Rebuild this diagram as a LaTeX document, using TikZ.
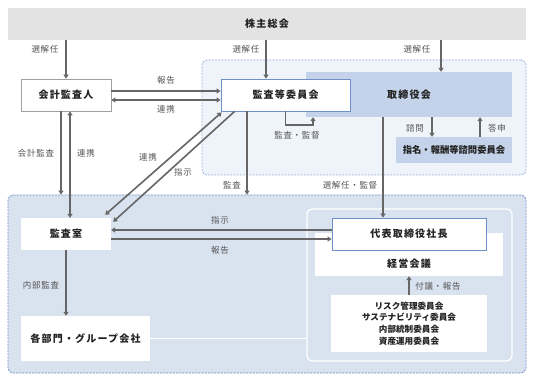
\documentclass[tikz,border=0pt]{standalone}
\usepackage{fontspec}
\setmainfont{Noto Sans CJK JP}
\usetikzlibrary{arrows.meta,calc}
\definecolor{bandgray}{HTML}{E3E3E3}
\definecolor{upfill}{HTML}{EFF3FA}
\definecolor{updash}{HTML}{9DB4DA}
\definecolor{lowfill}{HTML}{D9E2EF}
\definecolor{lowdash}{HTML}{6E8FC8}
\definecolor{torifill}{HTML}{C4D3E9}
\definecolor{boxblue}{HTML}{6F90C8}
\definecolor{boxgray}{HTML}{A0A0A0}
\definecolor{arrgray}{HTML}{666666}
\definecolor{labtext}{HTML}{555555}
\definecolor{boxtext}{HTML}{222222}
\tikzset{
  boxfont/.style={font=\fontsize{10}{12}\selectfont\bfseries\addfontfeature{LetterSpace=12}},
  plainbox/.style={fill=white, inner sep=0pt, text=boxtext, boxfont},
  bluebox/.style={plainbox, draw=boxblue, line width=0.8pt},
  graybox/.style={plainbox, draw=boxgray, line width=0.8pt},
  lab/.style={font=\fontsize{8.5}{10}\selectfont\addfontfeature{LetterSpace=8}, text=labtext, inner sep=0pt},
  arr/.style={draw=arrgray, line width=1.6pt, -{Triangle[width=5pt,length=4pt]}},
  darr/.style={draw=arrgray, line width=1.6pt, {Triangle[width=5pt,length=4pt]}-{Triangle[width=5pt,length=4pt]}},
  region/.style={inner sep=0pt, rounded corners=5pt, line width=0.8pt, dash pattern=on 2pt off 1.2pt},
}
\begin{document}
\begin{tikzpicture}[x=1pt,y=-1pt]
\useasboundingbox (0,0) rectangle (533,382);
\fill[white] (0,0) rectangle (533,382);

% band
\node[fill=bandgray, minimum width=518pt, minimum height=32pt, inner sep=0pt, text=boxtext, boxfont] (band) at (267,24) {株主総会};

% regions
\node[region, draw=updash, fill=upfill, minimum width=324pt, minimum height=115pt] (upper) at (364,117.5) {};
\node[region, draw=lowdash, fill=lowfill, minimum width=518pt, minimum height=178pt] (lower) at (267,284) {};
\node[inner sep=0pt, rounded corners=5pt, draw=white, line width=1.3pt, minimum width=205pt, minimum height=152pt] (inner) at (409.5,285) {};

% boxes
\node[graybox, minimum width=90pt, minimum height=32pt] (kaikei) at (66,95) {会計監査人};
\node[plainbox, fill=torifill, minimum width=206pt, minimum height=45pt] (tori) at (409,94.5) {取締役会};
\node[bluebox, minimum width=129pt, minimum height=32pt] (kansa) at (285.5,95) {監査等委員会};
\node[plainbox, fill=torifill, minimum width=116pt, minimum height=26pt, font=\fontsize{9.3}{11}\selectfont\bfseries] (shimei) at (454,150) {指名・報酬等諮問委員会};
\node[plainbox, minimum width=90pt, minimum height=32pt] (shitsu) at (66,234) {監査室};
\node[plainbox, minimum width=188pt, minimum height=43pt] (keiei) at (409,254.5) {};
\node[text=boxtext, boxfont, inner sep=0pt] (keieitext) at (409,263.5) {経営会議};
\node[bluebox, minimum width=154pt, minimum height=32pt] (daihyo) at (409,234) {代表取締役社長};
\node[plainbox, minimum width=156pt, minimum height=57pt, align=center, font=\fontsize{8.6}{11.6}\selectfont\bfseries] (iinkai) at (409,323.5) {リスク管理委員会\\サステナビリティ委員会\\内部統制委員会\\資産運用委員会};
\node[plainbox, minimum width=129pt, minimum height=45pt] (kakubu) at (85.5,338.5) {各部門・グループ会社};

% coordinates
\coordinate (xk) at (266,0);
\coordinate (xt) at (441,0);
\coordinate (xa) at (247,0);
\coordinate (xs) at (383,0);
\coordinate (xq) at (432,0);
\coordinate (xr) at (480,0);
\coordinate (loopc) at (313,125);

% arrows
\draw[arr] (band.south -| kaikei) -- (kaikei.north);
\draw[arr] (band.south -| xk) -- (xk |- kansa.north);
\draw[arr] (band.south -| xt) -- (xt |- tori.north);
\draw[arr] ([yshift=4pt]kaikei.east) -- ([yshift=4pt]kaikei.east -| kansa.west);
\draw[darr] ([yshift=-5pt]kaikei.east) -- ([yshift=-5pt]kaikei.east -| kansa.west);
\draw[arr] ([xshift=-5pt]kaikei.south) -- ([xshift=-5pt]kaikei.south |- lower.north);
\draw[darr] ([xshift=4pt]kaikei.south) -- ([xshift=4pt]kaikei.south |- shitsu.north);
\draw[darr] ($(shitsu.north east)+(-6,-3)$) -- ($(kansa.south west)+(1,1)$);
\draw[arr] ($(kansa.south west)+(14,0)$) -- ($(shitsu.north east)+(2,4)$);
\draw[arr] (kansa.south) |- (loopc) -- (loopc |- tori.south);
\draw[arr] (xa |- kansa.south) -- (xa |- lower.north);
\draw[arr] (xq |- tori.south) -- (xq |- shimei.north);
\draw[arr] (xr |- shimei.north) -- (xr |- tori.south);
\draw[arr] (xs |- tori.south) -- (xs |- daihyo.north);
\draw[arr] ([yshift=4pt]daihyo.west) -- ([yshift=4pt]daihyo.west -| shitsu.east);
\draw[arr] ([yshift=-5pt]shitsu.east) -- ([yshift=-5pt]shitsu.east -| daihyo.west);
\draw[arr] (shitsu.south) -- (shitsu.south |- kakubu.north);
\draw[arr] (iinkai.north) -- (keiei.south);
\draw[white, line width=0.8pt] (kakubu.east) -- (kakubu.east -| inner.west);

% labels
\node[lab] (l1) at (45,49) {選解任};
\node[lab] (l2) at (246,49) {選解任};
\node[lab] (l3) at (417,49) {選解任};
\node[lab] (l4) at (166,80) {報告};
\node[lab] (l5) at (166,109) {連携};
\node[lab] (l6) at (36,153) {会計監査};
\node[lab] (l7) at (86,153) {連携};
\node[lab] (l8) at (148,157) {連携};
\node[lab] (l9) at (183,172) {指示};
\node[lab] (l10) at (297,135) {監査・監督};
\node[lab] (l11) at (415,128) {諮問};
\node[lab] (l12) at (497,128) {答申};
\node[lab] (l13) at (232,185) {監査};
\node[lab] (l14) at (350,185) {選解任・監督};
\node[lab] (l15) at (220,220) {指示};
\node[lab] (l16) at (220,250) {報告};
\node[lab] (l17) at (41,285) {内部監査};
\node[lab] (l18) at (438,286) {付議・報告};
\end{tikzpicture}
\end{document}
